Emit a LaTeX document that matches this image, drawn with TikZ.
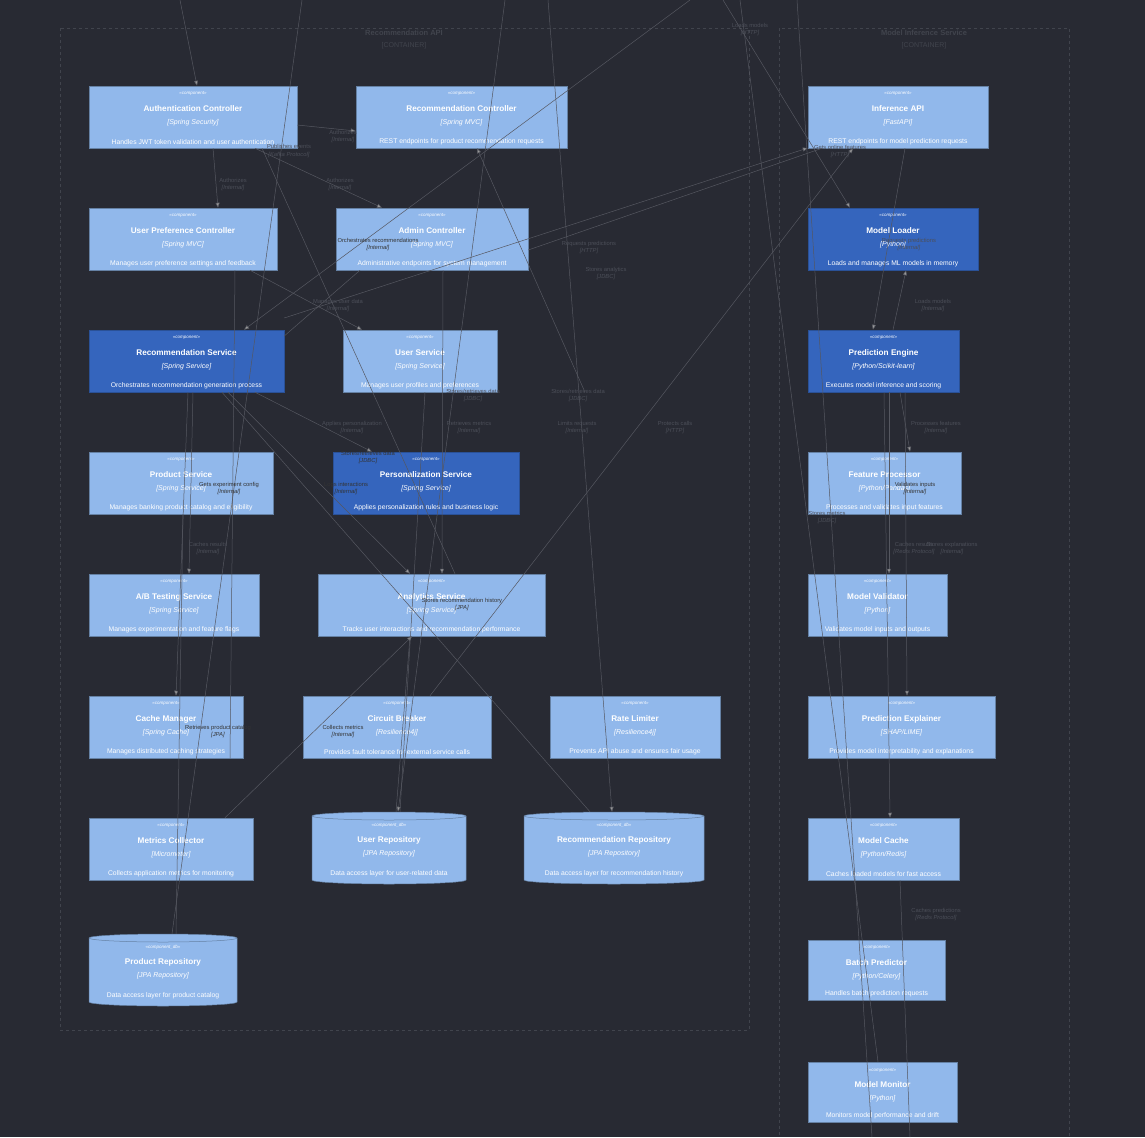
\documentclass[tikz,border=0pt]{standalone}
\usepackage{fontspec}
\setmainfont{Liberation Sans}
\usetikzlibrary{arrows.meta,fit}
\definecolor{bg}{HTML}{282A33}
\definecolor{lite}{HTML}{91B8EB}
\definecolor{dark}{HTML}{3565BD}
\definecolor{edgec}{HTML}{555760}
\definecolor{lblc}{HTML}{4C4F59}
\definecolor{cont}{HTML}{41444D}
\tikzset{
 box/.style={draw=lite!70!black, line width=0.5pt, inner sep=0pt},
 litebox/.style={box, fill=lite},
 darkbox/.style={box, fill=dark, draw=dark!80!black},
 stereo/.style={text=white, font=\fontsize{4.5}{5}\selectfont\itshape, inner sep=0},
 ttl/.style={text=white, font=\fontsize{8.2}{9}\selectfont\bfseries, inner sep=0},
 tech/.style={text=white, font=\fontsize{7}{8}\selectfont\itshape, inner sep=0},
 desc/.style={text=white, font=\fontsize{6.8}{8}\selectfont, inner sep=0},
 edge/.style={draw=edgec, line width=0.5pt, -{Triangle[width=4pt,length=5pt,fill=gray!80]}},
 plain/.style={draw=edgec, line width=0.5pt},
 lbl/.style={text=lblc, font=\fontsize{5.8}{7}\selectfont, align=center, inner sep=0},
 lbld/.style={text=black!80, font=\fontsize{5.8}{7}\selectfont, align=center, inner sep=0},
 conttitle/.style={text=cont, font=\fontsize{7.5}{8}\selectfont\bfseries, inner sep=0},
 contsub/.style={text=cont, font=\fontsize{7}{8}\selectfont, inner sep=0},
}
\newcommand\comp[8][litebox]{%
 \node[#1, fit={(#3,#4)(#5,#6)}] (#2) {};
 \pgfmathsetmacro\mx{(#3+#5)/2}%
 \node[stereo] (#2-s) at (\mx,#4+8) {<<component>>};
 \node[ttl] (#2-t) at (\mx,#4+23) {#7};
 \node[tech] (#2-k) at (\mx,#4+37) {[#8]};
}
\newcommand\cdesc[2]{\node[desc, anchor=south] (#1-d) at ([yshift=3.5pt]#1.south) {#2};}
\newcommand\dbcomp[8]{%
 \pgfmathsetmacro\mx{(#2+#4)/2}%
 \pgfmathsetmacro\rx{(#4-#2)/2}%
 \node[inner sep=0, fit={(#2,#3)(#4,#5)}] (#1) {};
 \path[fill=lite, draw=lite!70!black, line width=0.5pt] (#2,#3+4) -- (#2,#5-4)
   arc[start angle=180, end angle=0, x radius=\rx, y radius=4] -- (#4,#3+4)
   arc[start angle=0, end angle=-180, x radius=\rx, y radius=4] -- cycle;
 \draw[lite!70!black, line width=0.5pt] (#2,#3+4) arc[start angle=180, end angle=0, x radius=\rx, y radius=4];
 \node[stereo] (#1-s) at (\mx,#3+13) {<<component\_db>>};
 \node[ttl] (#1-t) at (\mx,#3+28) {#6};
 \node[tech] (#1-k) at (\mx,#3+42) {[#7]};
 \node[desc] (#1-d) at (\mx,#3+62) {#8};
}
\begin{document}
\begin{tikzpicture}[x=1pt,y=-1pt]
\fill[bg] (0,0) rectangle (1145,1137);
\useasboundingbox (0,0) rectangle (1145,1137);
% containers
\draw[cont, dashed, line width=0.5pt] (60,28) rectangle (749,1030);
\draw[cont, dashed, line width=0.5pt] (779,28) rectangle (1069,1145);
\node[conttitle] (c1t) at (404,33) {Recommendation API};
\node[contsub] (c1s) at (404,46) {[CONTAINER]};
\node[conttitle] (c2t) at (924,33) {Model Inference Service};
\node[contsub] (c2s) at (924,46) {[CONTAINER]};
% components
\comp{auth}{89}{86}{297}{148}{Authentication Controller}{Spring Security}
\cdesc{auth}{Handles JWT token validation and user authentication}
\comp{recc}{356}{86}{567}{148}{Recommendation Controller}{Spring MVC}
\cdesc{recc}{REST endpoints for product recommendation requests}
\comp{upref}{89}{208}{277}{270}{User Preference Controller}{Spring MVC}
\cdesc{upref}{Manages user preference settings and feedback}
\comp{admin}{336}{208}{528}{270}{Admin Controller}{Spring MVC}
\cdesc{admin}{Administrative endpoints for system management}
\comp[darkbox]{recsvc}{89}{330}{284}{392}{Recommendation Service}{Spring Service}
\cdesc{recsvc}{Orchestrates recommendation generation process}
\comp{usersvc}{343}{330}{497}{392}{User Service}{Spring Service}
\cdesc{usersvc}{Manages user profiles and preferences}
\comp{prod}{89}{452}{273}{514}{Product Service}{Spring Service}
\cdesc{prod}{Manages banking product catalog and eligibility}
\comp[darkbox]{pers}{333}{452}{519}{514}{Personalization Service}{Spring Service}
\cdesc{pers}{Applies personalization rules and business logic}
\comp{ab}{89}{574}{259}{636}{A/B Testing Service}{Spring Service}
\cdesc{ab}{Manages experimentation and feature flags}
\comp{anal}{318}{574}{545}{636}{Analytics Service}{Spring Service}
\cdesc{anal}{Tracks user interactions and recommendation performance}
\comp{cmgr}{89}{696}{243}{758}{Cache Manager}{Spring Cache}
\cdesc{cmgr}{Manages distributed caching strategies}
\comp{cb}{303}{696}{491}{758}{Circuit Breaker}{Resilience4j}
\cdesc{cb}{Provides fault tolerance for external service calls}
\comp{rl}{550}{696}{720}{758}{Rate Limiter}{Resilience4j}
\cdesc{rl}{Prevents API abuse and ensures fair usage}
\comp{metr}{89}{818}{253}{880}{Metrics Collector}{Micrometer}
\cdesc{metr}{Collects application metrics for monitoring}
\dbcomp{urepo}{312}{812}{466}{884}{User Repository}{JPA Repository}{Data access layer for user-related data}
\dbcomp{rrepo}{524}{812}{704}{884}{Recommendation Repository}{JPA Repository}{Data access layer for recommendation history}
\dbcomp{prepo}{89}{934}{237}{1006}{Product Repository}{JPA Repository}{Data access layer for product catalog}
\comp{iapi}{808}{86}{988}{148}{Inference API}{FastAPI}
\cdesc{iapi}{REST endpoints for model prediction requests}
\comp[darkbox]{mload}{808}{208}{978}{270}{Model Loader}{Python}
\cdesc{mload}{Loads and manages ML models in memory}
\comp[darkbox]{peng}{808}{330}{959}{392}{Prediction Engine}{Python/Scikit-learn}
\cdesc{peng}{Executes model inference and scoring}
\comp{fproc}{808}{452}{961}{514}{Feature Processor}{Python/Pandas}
\cdesc{fproc}{Processes and validates input features}
\comp{mval}{808}{574}{947}{636}{Model Validator}{Python}
\cdesc{mval}{Validates model inputs and outputs}
\comp{pexp}{808}{696}{995}{758}{Prediction Explainer}{SHAP/LIME}
\cdesc{pexp}{Provides model interpretability and explanations}
\comp{mcache}{808}{818}{959}{880}{Model Cache}{Python/Redis}
\cdesc{mcache}{Caches loaded models for fast access}
\comp{batch}{808}{940}{945}{1000}{Batch Predictor}{Python/Celery}
\cdesc{batch}{Handles batch prediction requests}
\comp{mmon}{808}{1062}{957}{1122}{Model Monitor}{Python}
\cdesc{mmon}{Monitors model performance and drift}
% free ends
\coordinate (t1) at (180,0);
\coordinate (t2) at (302,0);
\coordinate (t3) at (505,0);
\coordinate (t4) at (548,0);
\coordinate (t5) at (690,0);
\coordinate (t6) at (723,0);
\coordinate (t7) at (797,0);
\coordinate (t8) at (740,0);
\coordinate (b1) at (910,1137);
\coordinate (b2) at (872,1137);
% connectors
\draw[edge] (t1) -- (auth.north -| 197,0);
\draw[edge] (auth.east |- 0,125) -- (recc.west |- 0,131);
\draw[edge] (auth.south -| 213,0) -- (upref.north -| 218,0);
\draw[edge] (auth.south -| 255,0) -- (admin.north -| 382,0);
\draw[plain] (auth.south -| 262,0) -- (anal.north -| 455,0);
\draw[edge] (t5) -- (recsvc.north -| 244,0);
\draw[edge] (upref.south -| 250,0) -- (usersvc.north -| 362,0);
\draw[edge] (recsvc.east |- 0,318) -- (iapi.west |- 0,148);
\draw[edge] (cb.north -| 430,0) -- (iapi.south -| 853,0);
\draw[plain] (t2) -- (prepo.north -| 172,0);
\draw[edge] (t3) -- (urepo.north -| 398,0);
\draw[edge] (t4) -- (rrepo.north -| 612,0);
\draw[edge] (usersvc.south -| 585,0) -- (recc.south -| 477,0);
\draw[edge] (t6) -- (mload.north -| 850,0);
\draw[plain] (t8) -- (mmon.north -| 878,0);
\draw[plain] (t7) -- (b2);
\draw[edge] (iapi.south -| 905,0) -- (peng.north -| 873,0);
\draw[edge] (peng.north -| 893,0) -- (mload.south -| 906,0);
\draw[edge] (peng.south -| 900,0) -- (fproc.north -| 910,0);
\draw[edge] (peng.south -| 889,0) -- (mval.north -| 889,0);
\draw[edge] (peng.south -| 905,0) -- (pexp.north -| 907,0);
\draw[edge] (peng.south -| 884,0) -- (mcache.north -| 890,0);
\draw[plain] (mcache.south -| 900,0) -- (b1);
\draw[edge] (recsvc.south -| 193,0) -- (ab.north -| 189,0);
\draw[edge] (recsvc.south -| 188,0) -- (cmgr.north -| 176,0);
\draw[edge] (recsvc.south -| 255,0) -- (pers.north -| 372,0);
\draw[edge] (recsvc.south -| 228,0) -- (anal.north -| 410,0);
\draw[plain] (recsvc.south -| 222,0) -- (rrepo.north -| 590,0);
\draw[edge] (admin.south -| 443,0) -- (anal.north -| 442,0);
\draw[plain] (usersvc.south -| 425,0) -- (urepo.north -| 400,0);
\draw[plain] (prod.south -| 183,0) -- (prepo.north -| 176,0);
\draw[edge] (metr.north -| 225,0) -- (anal.south -| 412,0);
\draw[plain] (anal.south -| 410,0) -- (urepo.north -| 396,0);
\draw[plain] (admin.east |- 0,250) -- (iapi.south -| 822,0);
\draw[plain] (admin.south -| 360,0) -- (recsvc.east |- 0,336);
\draw[plain] (upref.south -| 235,0) -- (cmgr.south -| 230,0);
% labels
\node[lbl] (l1) at (343,137) {Authorizes\\\textit{[Internal]}};
\node[lbl] (l2) at (289,151) {Publishes events\\\textit{[Kafka Protocol]}};
\node[lbl] (l3) at (233,184) {Authorizes\\\textit{[Internal]}};
\node[lbl] (l4) at (340,184) {Authorizes\\\textit{[Internal]}};
\node[lbld] (l5) at (378,244) {Orchestrates recommendations\\\textit{[Internal]}};
\node[lbl] (l6) at (338,305) {Manages user data\\\textit{[Internal]}};
\node[lbl] (l7) at (589,247) {Requests predictions\\\textit{[HTTP]}};
\node[lbl] (l8) at (606,273) {Stores analytics\\\textit{[JDBC]}};
\node[lbl] (l9) at (750,30) {Loads models\\\textit{[HTTP]}};
\node[lbl] (l10) at (840,152) {Gets online features\\\textit{[HTTP]}};
\node[lbl] (l11) at (909,244) {Requests predictions\\\textit{[Internal]}};
\node[lbl] (l12) at (933,305) {Loads models\\\textit{[Internal]}};
\node[lbl] (l13) at (936,427) {Processes features\\\textit{[Internal]}};
\node[lbld] (l14) at (915,488) {Validates inputs\\\textit{[Internal]}};
\node[lbl] (l15) at (827,517) {Stores metrics\\\textit{[JDBC]}};
\node[lbl] (l16) at (914,548) {Caches results\\\textit{[Redis Protocol]}};
\node[lbl] (l16b) at (952,548) {Stores explanations\\\textit{[Internal]}};
\node[lbl] (l17) at (936,914) {Caches predictions\\\textit{[Redis Protocol]}};
\node[lbl] (l18) at (352,427) {Applies personalization\\\textit{[Internal]}};
\node[lbl] (l19) at (469,427) {Retrieves metrics\\\textit{[Internal]}};
\node[lbl] (l20) at (577,427) {Limits requests\\\textit{[Internal]}};
\node[lbl] (l21) at (675,427) {Protects calls\\\textit{[HTTP]}};
\node[lbl] (l22) at (473,395) {Stores/retrieves data\\\textit{[JDBC]}};
\node[lbl] (l23) at (578,395) {Stores/retrieves data\\\textit{[JDBC]}};
\node[lbld] (l24) at (368,457) {Stores/retrieves data\\\textit{[JDBC]}};
\node[lbld] (l25) at (229,488) {Gets experiment config\\\textit{[Internal]}};
\node[lbld] (l26) at (346,488) {Logs interactions\\\textit{[Internal]}};
\node[lbl] (l27) at (208,548) {Caches results\\\textit{[Internal]}};
\node[lbld] (l28) at (462,604) {Stores recommendation history\\\textit{[JPA]}};
\node[lbld] (l29) at (218,731) {Retrieves product catalog\\\textit{[JPA]}};
\node[lbld] (l30) at (343,731) {Collects metrics\\\textit{[Internal]}};
\end{tikzpicture}
\end{document}
